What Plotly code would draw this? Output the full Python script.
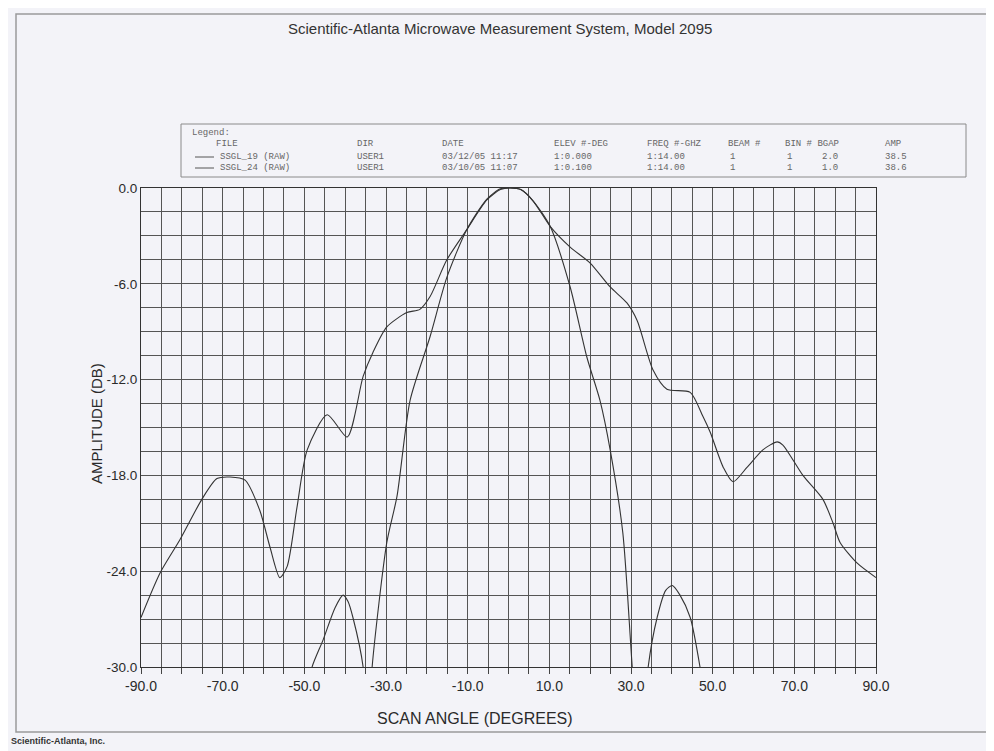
import plotly.graph_objects as go

# ---- data ----
wide_angle = [-90, -85.3, -80.4, -75.1, -71.4, -68.2, -64.5, -60.9, -58.4, -56.0, -54.2,
              -51.8, -49.3, -44.4, -39.5, -35.6, -33.2, -29.8, -24.9, -21.7, -19.2, -15.1,
              -10.2, -5.3, -2.0, 0.4, 3.0, 6.0, 10.2, 15.1, 20.0, 24.9, 29.0, 31.5, 35.4,
              38.8, 44.5, 47.6, 49.4, 52.6, 55.0, 58.4, 62.3, 65.8, 67.2, 72.1, 77.0, 79.5,
              81.2, 85.4, 90]
wide_amp = [-26.9, -24.1, -22.0, -19.5, -18.2, -18.1, -18.3, -20.2, -22.5, -24.4, -23.7,
            -20.0, -16.4, -14.2, -15.6, -11.8, -10.3, -8.7, -7.8, -7.6, -6.8, -4.5,
            -2.6, -0.75, -0.1, 0.0, -0.1, -0.8, -2.4, -3.7, -4.7, -6.2, -7.2, -8.3, -11.4,
            -12.6, -12.8, -14.3, -15.3, -17.5, -18.4, -17.5, -16.4, -15.9, -16.1, -18.0, -19.5, -21.0,
            -22.2, -23.5, -24.4]

narrow_angle = [-49.0, -48.1, -45.4, -42.5, -40.5, -39.3, -38.1, -35.6, -34.5, -33.4, -29.8,
                -27.3, -24.1, -19.2, -15.1, -10.2, -5.3, -2.0, 0.4, 3.0, 6.0, 10.2, 15.1, 19.2,
                22.4, 24.9, 28.0, 30.3, 32.2, 34.2, 36.4, 38.5, 40.1, 42.0, 44.5, 46.9, 48.0]
narrow_amp = [-31.5, -30.0, -28.3, -26.3, -25.5, -25.9, -26.9, -30.0, -35.0, -30.0, -22.2,
              -19.3, -13.3, -9.3, -5.6, -2.6, -0.7, -0.05, 0.0, -0.1, -0.8, -2.4, -6.2, -10.6,
              -13.3, -16.4, -21.6, -30.0, -36.0, -30.0, -26.9, -25.2, -24.9, -25.5, -26.9, -30.0, -32.0]

x_ticks = [-90, -70, -50, -30, -10, 10, 30, 50, 70, 90]
y_ticks = [0, -6, -12, -18, -24, -30]

legend_header = ["FILE", "DIR", "DATE", "ELEV #-DEG", "FREQ #-GHZ", "BEAM #", "BIN # BGAP", "AMP"]
legend_row1 = ["SSGL_19 (RAW)", "USER1", "03/12/05 11:17", "1:0.000", "1:14.00", "1", "1", "2.0", "38.5"]
legend_row2 = ["SSGL_24 (RAW)", "USER1", "03/10/05 11:07", "1:0.100", "1:14.00", "1", "1", "1.0", "38.6"]

# ---- layout geometry (window pixels); page body has an 8px margin ----
W, H = 994, 751
OFF = 8
L, R, T, B = 141, 876, 188, 667


def px(x):
    return (x - L) / (R - L)


def py(y):
    return (B - y) / (B - T)


BG = "#f3f3f8"
GRID = "#555555"
INK = "#2a2a2a"

fig = go.Figure()
fig.add_trace(go.Scatter(x=wide_angle, y=wide_amp, mode="lines",
                         line=dict(color="#333333", width=1.1, shape="spline", smoothing=0.7),
                         showlegend=False, hoverinfo="skip"))
fig.add_trace(go.Scatter(x=narrow_angle, y=narrow_amp, mode="lines",
                         line=dict(color="#333333", width=1.1, shape="spline", smoothing=0.7),
                         showlegend=False, hoverinfo="skip"))

xtickfont = dict(family="Liberation Sans, Arial, sans-serif", size=14, color=INK)
ytickfont = dict(family="Liberation Sans, Arial, sans-serif", size=13.5, color=INK)

fig.update_xaxes(range=[-90, 90], tickvals=x_ticks, ticktext=[f"{v:.1f}" for v in x_ticks],
                 showgrid=True, gridcolor=GRID, gridwidth=1, zeroline=False,
                 showline=True, linecolor="#333", linewidth=1.2, mirror=True,
                 ticks="outside", ticklen=6, tickcolor="#444",
                 minor=dict(dtick=5, tick0=-90, showgrid=True, gridcolor=GRID, gridwidth=1,
                            ticks="outside", ticklen=6, tickcolor="#444"),
                 tickfont=xtickfont, fixedrange=True)
fig.update_yaxes(range=[-30, 0], tickvals=y_ticks, ticktext=[f"{v:.1f}" for v in y_ticks],
                 showgrid=True, gridcolor=GRID, gridwidth=1, zeroline=False,
                 showline=True, linecolor="#333", linewidth=1.2, mirror=True,
                 ticks="", ticklabelstandoff=0,
                 minor=dict(dtick=1.5, tick0=0, showgrid=True, gridcolor=GRID, gridwidth=1),
                 tickfont=ytickfont, fixedrange=True)


def ann(x, y, text, font, xanchor="center", yanchor="middle", **kw):
    return dict(x=px(x), y=py(y), xref="paper", yref="paper", showarrow=False,
                xanchor=xanchor, yanchor=yanchor, text=text, font=font, **kw)


annotations = []
annotations.append(ann(500, 28, "Scientific-Atlanta Microwave Measurement System, Model 2095",
                       dict(family="Liberation Sans, Arial", size=15, color="#333")))
annotations.append(ann(475, 718, "SCAN ANGLE (DEGREES)",
                       dict(family="Liberation Sans, Arial", size=16, color=INK)))
annotations.append(ann(96, 424, "AMPLITUDE (DB)",
                       dict(family="Liberation Sans, Arial", size=15, color=INK), textangle=-90))
annotations.append(ann(9, 741, "<b>Scientific-Atlanta, Inc.</b>",
                       dict(family="Liberation Sans, Arial", size=9, color="#333"), xanchor="left"))

mono = dict(family="Liberation Mono, DejaVu Sans Mono, monospace", size=9, color="#666")
annotations.append(ann(190, 133, "Legend:", mono, xanchor="left"))
hdr_x = [214, 355, 440, 552, 645, 726, 783, 883]
for t, xx in zip(legend_header, hdr_x):
    annotations.append(ann(xx, 144, t, mono, xanchor="left"))
row_x = [218, 355, 440, 552, 645, 728, 785, 820, 883]
for row, yy in ((legend_row1, 157), (legend_row2, 168)):
    for t, xx in zip(row, row_x):
        annotations.append(ann(xx, yy, t, mono, xanchor="left"))

shapes = [
    dict(type="rect", xref="paper", yref="paper", x0=px(16), x1=px(990), y0=py(732), y1=py(14),
         line=dict(color="#9a9a9a", width=1.5), layer="below"),
    dict(type="rect", xref="paper", yref="paper", x0=px(181), x1=px(966), y0=py(177), y1=py(124),
         line=dict(color="#8a8a8a", width=1)),
    dict(type="line", xref="paper", yref="paper", x0=px(195), x1=px(214), y0=py(157), y1=py(157),
         line=dict(color="#555", width=1)),
    dict(type="line", xref="paper", yref="paper", x0=px(195), x1=px(214), y0=py(168), y1=py(168),
         line=dict(color="#555", width=1)),
]

fig.update_layout(width=W - OFF, height=H - OFF, autosize=False,
                  margin=dict(l=L - OFF, r=W - R, t=T - OFF, b=H - B, pad=0),
                  paper_bgcolor=BG, plot_bgcolor=BG,
                  annotations=annotations, shapes=shapes, showlegend=False)

fig.write_html("out.html", config={"displayModeBar": False})
